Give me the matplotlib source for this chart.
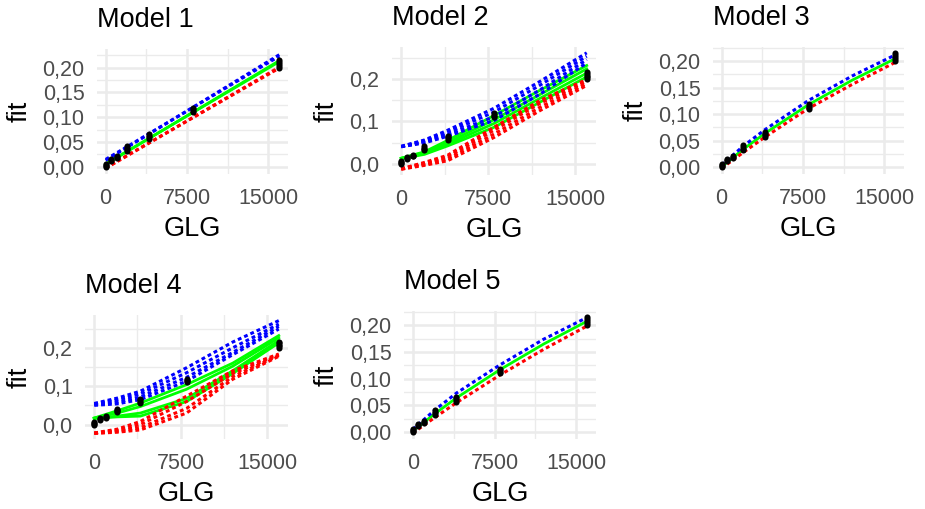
import numpy as np
import matplotlib
matplotlib.use('Agg')
import matplotlib.pyplot as plt
from matplotlib.ticker import MultipleLocator, FuncFormatter

plt.rcParams['font.family'] = ['Liberation Sans', 'DejaVu Sans']

# observed data (same in every panel)
glg_obs = [0, 500, 1000, 2000, 4000, 8000, 16000]
fit_obs = [
    [0.000, 0.002, 0.004, 0.006],
    [0.012, 0.014, 0.016],
    [0.017, 0.019, 0.021],
    [0.032, 0.035, 0.038, 0.041],
    [0.057, 0.060, 0.063, 0.066],
    [0.110, 0.113, 0.116, 0.119],
    [0.200, 0.204, 0.208, 0.212, 0.216],
]

# GLG values where the model lines are evaluated
nodes_lin = [0, 16000]
nodes = [0, 2000, 4000, 8000, 12000, 16000]

# Model 1 (linear)
m1_fit = [[0.005, 0.214], [0.006, 0.212]]
m1_lwr = [[-0.003, 0.201], [-0.002, 0.199]]
m1_upr = [[0.013, 0.226], [0.015, 0.223]]

# Model 2
m2_fit = [[0.013, 0.028, 0.055, 0.114, 0.174, 0.232],
          [0.013, 0.026, 0.050, 0.104, 0.164, 0.224],
          [0.012, 0.024, 0.046, 0.095, 0.155, 0.214],
          [0.012, 0.022, 0.042, 0.086, 0.146, 0.205]]
m2_lwr = [[-0.012, 0.003, 0.020, 0.086, 0.150, 0.199],
          [-0.012, 0.001, 0.016, 0.079, 0.143, 0.195],
          [-0.013, -0.002, 0.011, 0.070, 0.134, 0.190],
          [-0.013, -0.004, 0.007, 0.062, 0.126, 0.185]]
m2_upr = [[0.041, 0.056, 0.079, 0.131, 0.195, 0.262],
          [0.041, 0.054, 0.074, 0.122, 0.186, 0.254],
          [0.040, 0.051, 0.069, 0.111, 0.175, 0.246],
          [0.040, 0.049, 0.065, 0.102, 0.165, 0.238]]

# Model 3
m3_fit = [[0.001, 0.034, 0.064, 0.118, 0.164, 0.205]]
m3_lwr = [[-0.002, 0.028, 0.057, 0.111, 0.156, 0.198]]
m3_upr = [[0.004, 0.040, 0.071, 0.126, 0.172, 0.212]]

# Model 4
m4_fit = [[0.017, 0.036, 0.056, 0.104, 0.160, 0.232],
          [0.017, 0.030, 0.047, 0.092, 0.152, 0.226],
          [0.016, 0.022, 0.030, 0.068, 0.140, 0.219],
          [0.016, 0.020, 0.022, 0.060, 0.133, 0.213]]
m4_lwr = [[-0.022, -0.012, 0.008, 0.074, 0.140, 0.184],
          [-0.022, -0.015, 0.000, 0.060, 0.133, 0.182],
          [-0.023, -0.018, -0.008, 0.042, 0.125, 0.180],
          [-0.023, -0.020, -0.014, 0.030, 0.118, 0.178]]
m4_upr = [[0.055, 0.069, 0.087, 0.148, 0.215, 0.271],
          [0.054, 0.064, 0.080, 0.135, 0.200, 0.262],
          [0.052, 0.058, 0.072, 0.123, 0.188, 0.256],
          [0.050, 0.054, 0.065, 0.113, 0.182, 0.249]]

# Model 5
m5_fit = [[0.002, 0.034, 0.064, 0.117, 0.165, 0.208]]
m5_lwr = [[-0.002, 0.027, 0.055, 0.107, 0.155, 0.199]]
m5_upr = [[0.005, 0.041, 0.073, 0.126, 0.174, 0.215]]

models = [
    ('Model 1', nodes_lin, m1_fit, m1_lwr, m1_upr, 0.05, 2, (97, 49, 288, 174)),
    ('Model 2', nodes, m2_fit, m2_lwr, m2_upr, 0.1, 1, (392, 47, 596, 175)),
    ('Model 3', nodes, m3_fit, m3_lwr, m3_upr, 0.05, 2, (713, 47, 904, 174)),
    ('Model 4', nodes, m4_fit, m4_lwr, m4_upr, 0.1, 1, (85, 315, 288, 439)),
    ('Model 5', nodes, m5_fit, m5_lwr, m5_upr, 0.05, 2, (404, 311, 596, 439)),
]

W, H = 925, 509
GRID = '#EBEBEB'
DASH = (0, (1.25, 1.0))


def px_rect(left, top, right, bottom):
    return [left / W, 1 - bottom / H, (right - left) / W, (bottom - top) / H]


def comma_fmt(decimals):
    return FuncFormatter(lambda v, pos: f'{v:.{decimals}f}'.replace('.', ','))


fig = plt.figure(figsize=(W / 100, H / 100), dpi=100)

for title, xs, fit, lwr, upr, ystep, dec, rect in models:
    ax = fig.add_axes(px_rect(*rect))

    for line in fit:
        ax.plot(xs, line, color='#00FF00', lw=2.0)
    for line in lwr:
        ax.plot(xs, line, color='#FF0000', lw=2.2, linestyle=DASH,
                dash_capstyle='butt')
    for line in upr:
        ax.plot(xs, line, color='#0000FF', lw=2.2, linestyle=DASH,
                dash_capstyle='butt')

    for g, vals in zip(glg_obs, fit_obs):
        ax.plot([g] * len(vals), vals, 'o', color='black', markersize=4.4,
                markeredgewidth=0)

    # ggplot-like 5% expansion
    all_y = [v for grp in (fit, lwr, upr) for line in grp for v in line]
    all_y += [v for vals in fit_obs for v in vals]
    ymin, ymax = min(all_y), max(all_y)
    ypad = (ymax - ymin) * 0.05
    ax.set_ylim(ymin - ypad, ymax + ypad)
    xmin, xmax = 0, 16000
    xpad = (xmax - xmin) * 0.05
    ax.set_xlim(xmin - xpad, xmax + xpad)

    ax.xaxis.set_major_locator(MultipleLocator(7500))
    ax.xaxis.set_minor_locator(MultipleLocator(3750))
    ax.yaxis.set_major_locator(MultipleLocator(ystep))
    ax.yaxis.set_minor_locator(MultipleLocator(ystep / 2))
    ax.yaxis.set_major_formatter(comma_fmt(dec))
    ax.xaxis.set_major_formatter(FuncFormatter(lambda v, pos: f'{v:.0f}'))

    ax.grid(True, which='major', color=GRID, lw=1.8)
    ax.grid(True, which='minor', color=GRID, lw=1.0)
    ax.set_axisbelow(True)
    for s in ax.spines.values():
        s.set_visible(False)
    ax.tick_params(which='both', length=0, labelsize=15.5, labelcolor='#4D4D4D')
    ax.tick_params(axis='x', pad=10)
    ax.tick_params(axis='y', pad=9)

    ax.set_title(title, loc='left', fontsize=19.5, pad=16)
    ax.set_xlabel('GLG', fontsize=19.5, labelpad=5)
    ax.set_ylabel('fit', fontsize=19.5, labelpad=7)

fig.savefig('out.png', dpi=100)
